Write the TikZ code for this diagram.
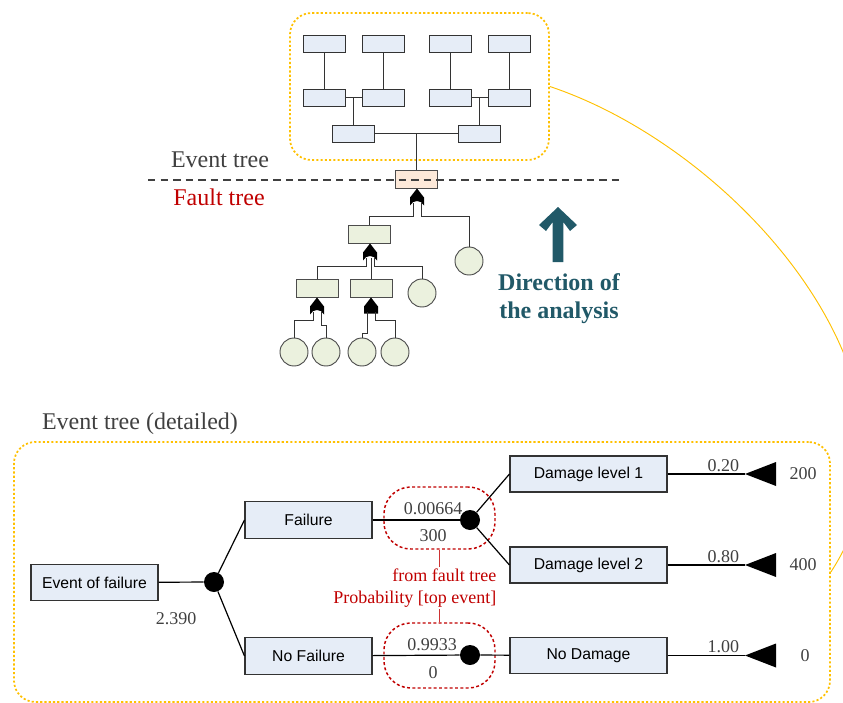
\documentclass[tikz,border=0pt]{standalone}
\usepackage{fontspec}
\setmainfont{Liberation Serif}
\setsansfont{Liberation Sans}
\usepackage{tikz}
\usetikzlibrary{arrows.meta,positioning}
\definecolor{boxblue}{RGB}{230,237,247}
\definecolor{boxgreen}{RGB}{235,241,222}
\definecolor{boxorange}{RGB}{253,233,217}
\definecolor{ambery}{RGB}{255,192,0}
\definecolor{faultred}{RGB}{192,0,0}
\definecolor{dirteal}{RGB}{33,89,104}
\definecolor{numgray}{RGB}{64,64,64}
\newcommand{\orgate}[1]{\fill[black, shift={#1}] (0,0) -- (7,9) -- (7,17) .. controls (4,11) and (-4,11) .. (-7,17) -- (-7,9) -- cycle;}
\newcommand{\andgate}[1]{\fill[black, shift={#1}] (0,0) -- (7,9) -- (7,16) -- (-7,16) -- (-7,9) -- cycle;}

\begin{document}
\begin{tikzpicture}[x=0.75pt, y=-0.75pt,
    tbox/.style={rectangle, draw=black!80, fill=boxblue, line width=0.7pt, minimum width=31.5pt, minimum height=12.75pt, inner sep=0pt},
    topev/.style={tbox, fill=boxorange, draw=black!70, minimum height=13.5pt},
    ftbox/.style={tbox, fill=boxgreen, draw=black!70, minimum height=13.5pt},
    basic/.style={circle, draw=black!70, fill=boxgreen, line width=0.7pt, minimum size=21pt, inner sep=0pt},
    tlink/.style={draw=black!80, line width=0.7pt},
    zone/.style={rectangle, rounded corners=16pt, draw=ambery, line width=1.3pt, dash pattern=on 1.6pt off 1.6pt},
    lbl/.style={font=\fontsize{18}{21}\selectfont, inner sep=0pt},
    etbox/.style={rectangle, draw=black!80, fill=boxblue, line width=0.8pt, minimum width=95.25pt, minimum height=27.5pt, inner sep=0pt, font=\sffamily\fontsize{11.8}{13}\selectfont},
    dmgbox/.style={etbox, minimum width=117.75pt, minimum height=27pt},
    chance/.style={circle, fill=black, minimum size=15pt, inner sep=0pt},
    etlink/.style={draw=black, line width=0.9pt},
    num/.style={font=\fontsize{13.5}{15}\selectfont, text=numgray, inner sep=1.5pt},
    probzone/.style={rectangle, rounded corners=20pt, draw=faultred, line width=1.1pt, dash pattern=on 2.2pt off 1.8pt, minimum width=83.25pt},
    redlink/.style={draw=faultred!80, line width=0.9pt}]

\useasboundingbox (0,0) rectangle (843,703);
\clip (0,0) rectangle (843,703);

% overview
\node[zone, minimum width=194.25pt, minimum height=110.25pt] (evzone) at (419.5,86.5) {};
\node[tbox] (t1) at (324,43.5) {};
\node[tbox] (t2) at (383,43.5) {};
\node[tbox] (t3) at (450,43.5) {};
\node[tbox] (t4) at (509,43.5) {};
\node[tbox] (m1) at (324,97.5) {};
\node[tbox] (m2) at (383,97.5) {};
\node[tbox] (m3) at (450,97.5) {};
\node[tbox] (m4) at (509,97.5) {};
\node[tbox] (l1) at (353.5,133.5) {};
\node[tbox] (l2) at (479.5,133.5) {};
\node[topev] (top) at (416.5,179) {};

\draw[tlink] (t1) -- (m1);
\draw[tlink] (t2) -- (m2);
\draw[tlink] (t3) -- (m3);
\draw[tlink] (t4) -- (m4);
\draw[tlink] (m1) -- (m2);
\draw[tlink] (m3) -- (m4);
\draw[tlink] (l1.north) -- (l1.north |- m1);
\draw[tlink] (l2.north) -- (l2.north |- m3);
\draw[tlink] (l1) -- (l2);
\draw[tlink] (top.north) -- (top.north |- l1);

\node[ftbox] (ft1) at (369.5,234) {};
\node[ftbox] (ft2) at (317,288) {};
\node[ftbox] (ft3) at (371,288) {};
\node[basic] (b1) at (469,261) {};
\node[basic] (b2) at (422,293) {};
\node[basic] (c1) at (294,352) {};
\node[basic] (c2) at (326,352) {};
\node[basic] (c3) at (362,352) {};
\node[basic] (c4) at (395,352) {};

\orgate{(417,188.5)}
\orgate{(370,243.5)}
\orgate{(317,297.5)}
\andgate{(371,297.5)}
\coordinate (g1a) at (413,203);
\coordinate (g1b) at (421,203);
\coordinate (g2a) at (366,258);
\coordinate (g2b) at (374,258);
\coordinate (g3a) at (313,312);
\coordinate (g3b) at (321,312);
\coordinate (g4a) at (367,312);
\coordinate (g4b) at (375,312);

\draw[tlink] (g1a) -- ++(0,13) -| (ft1.north);
\draw[tlink] (g1b) -- ++(0,13) -| (b1.north);
\draw[tlink] (g2a) -- ++(0,8) -| (ft2.north);
\draw[tlink] (g2b) -- ++(0,8) -| (b2.north);
\draw[tlink] (ft3.north) -- (ft3.north |- g2b);
\draw[tlink] (g3a) -- ++(0,8) -| (c1.north);
\draw[tlink] (g3b) -- ++(0,13) -| (c2.north);
\draw[tlink] (g4a) -- ++(0,21) -| (c3.north);
\draw[tlink] (g4b) -- ++(0,8) -| (c4.north);

\node[lbl, text=numgray] (evlbl) at (220,160) {Event tree};
\node[lbl, text=faultred] (ftlbl) at (219,197) {Fault tree};
\coordinate (sepL) at (148,180);
\coordinate (sepR) at (622,180);
\draw[black!75, line width=0.9pt, dash pattern=on 5.6pt off 3.8pt] (sepL) -- (sepR);

% direction arrow
\fill[dirteal] (558,207) -- (577,225) -- (570,231) -- (563.3,222) -- (563.3,262) -- (552.7,262) -- (552.7,222) -- (546,231) -- (539,225) -- cycle;
\node[font=\bfseries\fontsize{18}{21}\selectfont, text=dirteal, align=center, inner sep=0pt] (dir) at (559,299) {Direction of\\the analysis};

% detailed event tree
\node[lbl, text=numgray] (detlbl) at (140,424) {Event tree (detailed)};
\node[zone, minimum width=612pt, minimum height=195pt] (detzone) at (422,572) {};
\draw[ambery, line width=0.7pt] (evzone.east) .. controls (740,150) and (950,390) .. (detzone.east);

\node[probzone, minimum height=46.5pt] (pz1) at (439.5,518) {};
\node[probzone, minimum height=48.75pt] (pz2) at (439.5,655.5) {};

\node[etbox] (eof) at (94.5,582.5) {Event of failure};
\node[chance] (ch1) at (214,582) {};
\node[etbox] (fail) at (308.5,520) {Failure};
\node[etbox] (nofail) at (308.5,656) {No Failure};
\node[chance] (ch2) at (470,520) {};
\node[chance] (ch3) at (470,655) {};
\node[dmgbox] (dmg1) at (588.5,474) {Damage level 1};
\node[dmgbox] (dmg2) at (588.5,565) {Damage level 2};
\node[dmgbox] (nodmg) at (588.5,655.5) {No Damage};

\draw[etlink] (eof) -- (ch1);
\draw[etlink] (ch1) -- (fail.west);
\draw[etlink] (ch1) -- (nofail.west);
\draw[etlink] (fail) -- (ch2);
\draw[etlink] (ch2) -- (dmg1.west);
\draw[etlink] (ch2) -- (dmg2.west);
\draw[etlink] (nofail) -- (ch3);
\draw[etlink] (ch3) -- (nodmg);

\coordinate (end1) at (745,474);
\coordinate (end2) at (745,565);
\coordinate (end3) at (745,655.5);
\fill (end1) -- ++(31,-12) -- ++(0,24) -- cycle;
\fill (end2) -- ++(31,-12) -- ++(0,24) -- cycle;
\fill (end3) -- ++(31,-12) -- ++(0,24) -- cycle;
\draw[etlink] (dmg1) -- (end1) node[num, pos=0.72, above] {0.20};
\draw[etlink] (dmg2) -- (end2) node[num, pos=0.72, above] {0.80};
\draw[etlink] (nodmg) -- (end3) node[num, pos=0.72, above] {1.00};
\node[num] (v1) at (803,474) {200};
\node[num] (v2) at (803,565) {400};
\node[num] (v3) at (805,655.5) {0};

\node[num] (n0) at (176,619) {2.390};
\node[num] (p1) at (433,509) {0.00664};
\node[num] (q1) at (433,536) {300};
\node[num] (p2) at (432,645) {0.9933};
\node[num] (q2) at (433,673) {0};

\node[font=\fontsize{13.5}{17}\selectfont, text=faultred, align=right, anchor=east, inner sep=1pt] (src) at (498,588) {from fault tree\\Probability [top event]};
\draw[redlink] (pz1.south) -- (pz1.south |- src.north);
\draw[redlink] (pz2.north) -- (pz2.north |- src.south);

\end{tikzpicture}
\end{document}
